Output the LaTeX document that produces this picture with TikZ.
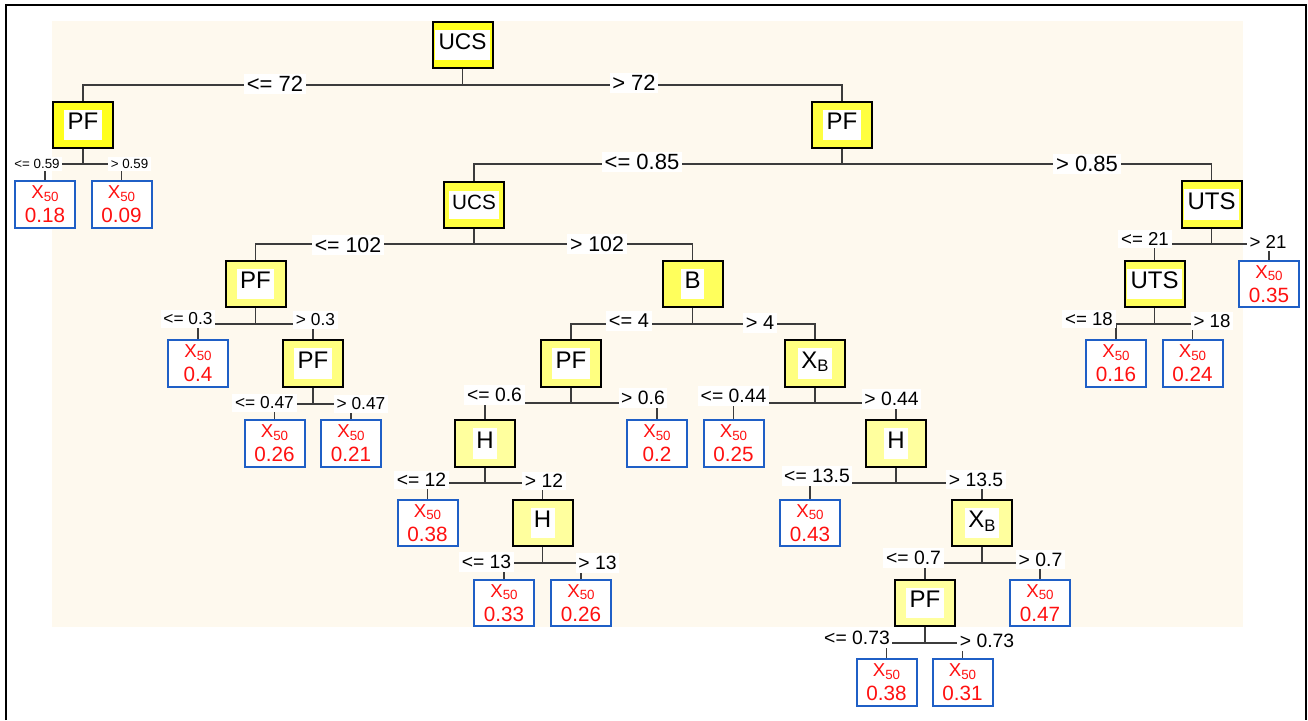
\documentclass[tikz,border=0pt]{standalone}
\usepackage{fontspec}
\setmainfont{Liberation Sans}
\definecolor{cream}{HTML}{FEF9EE}
\definecolor{leafblue}{HTML}{1F5FC6}
\definecolor{connc}{HTML}{3C3C3C}
\definecolor{leafred}{HTML}{FF1010}
\definecolor{yA}{HTML}{FFFF1E}
\definecolor{yB}{HTML}{FFFF40}
\definecolor{yC}{HTML}{FFFF5C}
\definecolor{yD}{HTML}{FFFF80}
\definecolor{yE}{HTML}{FFFF9E}
\setlength{\fboxsep}{2.5pt}
\tikzset{
  x=0.75pt, y=-0.75pt,
  dec/.style={draw=black, line width=1.5pt, minimum width=45pt, minimum height=35pt, inner sep=0pt,
              font=\fontsize{18}{18}\selectfont},
  leaf/.style={draw=leafblue, line width=1.5pt, fill=white, minimum width=45pt, minimum height=35pt,
               inner sep=0pt, align=center, text=leafred, font=\fontsize{15}{18}\selectfont},
  lbl/.style={fill=white, inner sep=2pt, text=black},
  conn/.style={draw=connc, line width=0.9pt},
}
\newcommand\dtext[1]{\colorbox{white}{\strut #1}}
\newcommand\xb{X\raisebox{-2.5pt}{\fontsize{12.5}{12.5}\selectfont B}}
\newcommand\lv[1]{{\fontsize{14}{18}\selectfont X\raisebox{-2pt}{\fontsize{10}{18}\selectfont 50}}\\{\fontsize{15.5}{18}\selectfont #1}}
\newcommand\tsplit[9]{%
  \coordinate (#1bar) at (#1.south |- 0,#4);
  \draw[conn] (#1.south) -- (#1bar);
  \draw[conn] (#2.north) -- (#2.north |- #1bar) -- (#3.north |- #1bar) -- (#3.north);
  \node[lbl, font=\fontsize{#9}{#9}\selectfont] (#1ll) at (#5) {#6};
  \node[lbl, font=\fontsize{#9}{#9}\selectfont] (#1rl) at (#7) {#8};
}
\begin{document}
\begin{tikzpicture}
\useasboundingbox (0,0) rectangle (1308,720);
\fill[cream] (52,21) rectangle (1243,627);
\draw[line width=1.5pt, black] (6,720) -- (6,5) -- (1306,5) -- (1306,720);

% decision nodes
\node[dec, fill=yA, font=\fontsize{17}{17}\selectfont] (root) at (462.5,45) {\dtext{UCS}};
\node[dec, fill=yA] (pfA) at (83,125) {\dtext{PF}};
\node[dec, fill=yB] (pfB) at (842,125) {\dtext{PF}};
\node[dec, fill=yB, font=\fontsize{15.5}{15.5}\selectfont] (ucsB) at (474,205) {\dtext{UCS}};
\node[dec, fill=yB] (uts) at (1211.5,204.5) {\dtext{UTS}};
\node[dec, fill=yC] (uts2) at (1154.5,284) {\dtext{UTS}};
\node[dec, fill=yD] (pfC) at (255.5,284) {\dtext{PF}};
\node[dec, fill=yC] (bB) at (692.5,284) {\dtext{B}};
\node[dec, fill=yD] (pfF) at (313,363.5) {\dtext{PF}};
\node[dec, fill=yD] (pfD) at (571,363.5) {\dtext{PF}};
\node[dec, fill=yD] (xbA) at (815,363.5) {\dtext{\xb}};
\node[dec, fill=yE] (h1) at (485,443.5) {\dtext{H}};
\node[dec, fill=yE] (h3) at (896,443.5) {\dtext{H}};
\node[dec, fill=yE] (h2) at (542.5,523) {\dtext{H}};
\node[dec, fill=yE] (xbB) at (982,523) {\dtext{\xb}};
\node[dec, fill=yE] (pfE) at (925,603) {\dtext{PF}};

% leaves
\node[leaf] (L1) at (45,204.5) {\lv{0.18}};
\node[leaf] (L2) at (121.5,204.5) {\lv{0.09}};
\node[leaf] (L3) at (1269,284) {\lv{0.35}};
\node[leaf] (L4) at (1116,363.5) {\lv{0.16}};
\node[leaf] (L5) at (1192.5,363.5) {\lv{0.24}};
\node[leaf] (L6) at (198,363.5) {\lv{0.4}};
\node[leaf] (L7) at (274.5,443.5) {\lv{0.26}};
\node[leaf] (L8) at (351,443.5) {\lv{0.21}};
\node[leaf] (L9) at (657,443.5) {\lv{0.2}};
\node[leaf] (L10) at (733.5,443.5) {\lv{0.25}};
\node[leaf] (L11) at (427.5,523) {\lv{0.38}};
\node[leaf] (L12) at (810,523) {\lv{0.43}};
\node[leaf] (L13) at (504,603) {\lv{0.33}};
\node[leaf] (L14) at (581,603) {\lv{0.26}};
\node[leaf] (L15) at (1040,603) {\lv{0.47}};
\node[leaf] (L16) at (886.5,682.5) {\lv{0.38}};
\node[leaf] (L17) at (962.5,682.5) {\lv{0.31}};

% splits
\tsplit{root}{pfA}{pfB}{85}{275,84}{<= 72}{634,83}{> 72}{16.5}
\tsplit{pfA}{L1}{L2}{164}{37,164}{<= 0.59}{129.5,164}{> 0.59}{10}
\tsplit{pfB}{ucsB}{uts}{164}{642,162}{<= 0.85}{1087,164}{> 0.85}{16.5}
\tsplit{ucsB}{pfC}{bB}{244}{348,245}{<= 102}{597,244}{> 102}{16}
\tsplit{uts}{uts2}{L3}{244}{1145,239}{<= 21}{1268,242}{> 21}{14}
\tsplit{uts2}{L4}{L5}{324}{1089,319}{<= 18}{1212,321}{> 18}{14}
\tsplit{pfC}{L6}{pfF}{324}{188,319}{<= 0.3}{315.5,320}{> 0.3}{13}
\tsplit{pfF}{L7}{L8}{404}{264.5,403}{<= 0.47}{361,404}{> 0.47}{13}
\tsplit{bB}{pfD}{xbA}{324}{629,321}{<= 4}{760,323}{> 4}{15}
\tsplit{pfD}{h1}{L9}{403}{494.5,395}{<= 0.6}{643,398}{> 0.6}{14.5}
\tsplit{xbA}{L10}{h3}{403}{733.5,396}{<= 0.44}{891.5,399}{> 0.44}{14.5}
\tsplit{h1}{L11}{h2}{483}{421.5,480}{<= 12}{544,481}{> 12}{14.5}
\tsplit{h2}{L13}{L14}{563}{486.5,562}{<= 13}{597.5,563}{> 13}{14.5}
\tsplit{h3}{L12}{xbB}{483}{817,476}{<= 13.5}{976,479.5}{> 13.5}{14.5}
\tsplit{xbB}{pfE}{L15}{563}{913.5,558}{<= 0.7}{1040.5,559.5}{> 0.7}{14.5}
\tsplit{pfE}{L16}{L17}{643}{857,638}{<= 0.73}{987,641}{> 0.73}{14.5}
\end{tikzpicture}
\end{document}
